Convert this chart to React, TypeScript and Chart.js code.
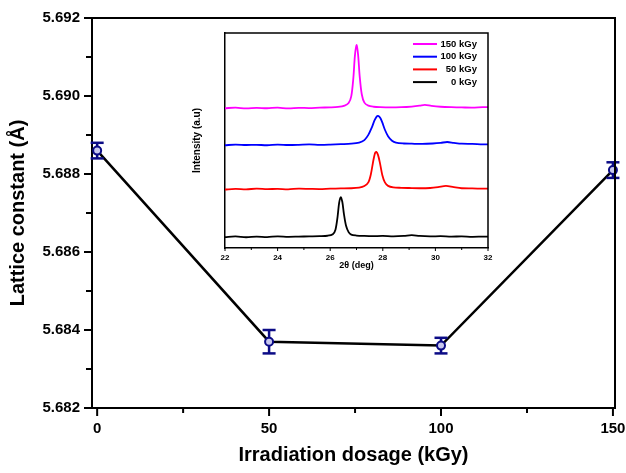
import React, { useEffect, useRef } from "react";
import { Chart, registerables } from "chart.js";
Chart.register(...registerables);

// ---------- main chart data ----------
const doses = [0, 50, 100, 150];
const latticeConstants = [5.6886, 5.6837, 5.6836, 5.6881];
const latticeErrors = [0.0002, 0.0003, 0.0002, 0.0002];
const xMajorTicks = [0, 50, 100, 150];
const xMinorTicks = [25, 75, 125];
const yMajorTicks = [5.682, 5.684, 5.686, 5.688, 5.69, 5.692];
const yMinorTicks = [5.683, 5.685, 5.687, 5.689, 5.691];

// ---------- inset (XRD) data ----------
const insetLabels = ["0 kGy", "50 kGy", "100 kGy", "150 kGy"];
const insetColors = ["#000000", "#ff0000", "#0000ff", "#ff00ff"];
const insetMajorTicks = [22, 24, 26, 28, 30, 32];
const insetMinorTicks = [23, 25, 27, 29, 31];

const theta0 = [22.0, 22.4, 22.8, 23.2, 23.6, 24.0, 24.4, 24.8, 25.2, 25.6, 25.9, 26.1, 26.2, 26.28, 26.34, 26.4, 26.46, 26.52, 26.6, 26.7, 26.8, 27.0, 27.3, 27.6, 28.0, 28.4, 28.8, 29.1, 29.4, 29.8, 30.2, 30.6, 31.0, 31.4, 31.8, 32.0];
const int0 = [5.1, 5.4, 5.0, 5.3, 5.1, 5.4, 5.2, 5.3, 5.4, 5.5, 5.7, 6.4, 8.5, 14.5, 21.0, 23.6, 21.5, 16.0, 10.5, 7.4, 6.2, 5.8, 5.6, 5.5, 5.6, 5.4, 5.6, 6.0, 5.6, 5.4, 5.5, 5.3, 5.4, 5.2, 5.3, 5.3];

const theta50 = [22.0, 22.4, 22.8, 23.2, 23.6, 24.0, 24.4, 24.8, 25.2, 25.6, 26.0, 26.4, 26.8, 27.1, 27.3, 27.45, 27.55, 27.63, 27.7, 27.75, 27.82, 27.9, 27.98, 28.08, 28.2, 28.4, 28.7, 29.0, 29.4, 29.8, 30.1, 30.4, 30.7, 31.0, 31.4, 31.8, 32.0];
const int50 = [27.2, 27.5, 27.3, 27.6, 27.4, 27.5, 27.3, 27.6, 27.5, 27.4, 27.6, 27.7, 27.8, 28.1, 28.8, 30.5, 34.5, 40.0, 44.0, 44.7, 43.2, 39.0, 34.0, 30.5, 28.9, 28.2, 28.0, 27.9, 27.8, 27.9, 28.3, 28.9, 28.3, 27.8, 27.7, 27.6, 27.6];

const theta100 = [22.0, 22.4, 22.8, 23.2, 23.6, 24.0, 24.4, 24.8, 25.2, 25.6, 26.0, 26.4, 26.8, 27.1, 27.3, 27.45, 27.58, 27.68, 27.76, 27.82, 27.9, 27.98, 28.08, 28.2, 28.35, 28.5, 28.8, 29.1, 29.5, 29.9, 30.2, 30.45, 30.7, 31.0, 31.4, 31.8, 32.0];
const int100 = [47.8, 48.1, 47.9, 48.0, 47.8, 48.1, 47.9, 48.0, 48.2, 48.0, 48.1, 48.3, 48.5, 49.0, 50.2, 52.6, 56.0, 59.2, 61.0, 61.4, 60.6, 58.4, 55.0, 52.0, 49.9, 49.0, 48.6, 48.5, 48.4, 48.6, 48.9, 49.3, 48.9, 48.5, 48.4, 48.2, 48.2];

const theta150 = [22.0, 22.4, 22.8, 23.2, 23.6, 24.0, 24.4, 24.8, 25.2, 25.6, 26.0, 26.3, 26.55, 26.7, 26.8, 26.88, 26.94, 27.0, 27.06, 27.12, 27.2, 27.3, 27.45, 27.65, 27.9, 28.3, 28.7, 29.1, 29.4, 29.6, 29.85, 30.2, 30.6, 31.0, 31.4, 31.8, 32.0];
const int150 = [65.0, 65.3, 64.9, 65.2, 65.0, 65.3, 64.9, 65.2, 65.1, 65.3, 65.4, 65.6, 66.2, 67.4, 70.5, 79.0, 89.5, 94.4, 90.0, 80.0, 71.5, 67.6, 66.2, 65.7, 65.5, 65.4, 65.5, 65.8, 66.2, 66.6, 66.1, 65.7, 65.5, 65.4, 65.3, 65.5, 65.5];

const insetThetas = [theta0, theta50, theta100, theta150];
const insetIntensities = [int0, int50, int100, int150];

const FONT = "Arial, 'Liberation Sans', sans-serif";
const NAVY = "#0b0b86";

function line(ctx: CanvasRenderingContext2D, x1: number, y1: number, x2: number, y2: number) {
  ctx.beginPath();
  ctx.moveTo(x1, y1);
  ctx.lineTo(x2, y2);
  ctx.stroke();
}

const mainDecor = {
  id: "mainDecor",
  afterDatasetDraw(chart: any, args: any) {
    if (args.index !== 0) return;
    const { ctx, scales } = chart;
    ctx.save();
    ctx.strokeStyle = NAVY;
    ctx.lineWidth = 2.5;
    doses.forEach((d, i) => {
      const px = scales.x.getPixelForValue(d);
      const top = scales.y.getPixelForValue(latticeConstants[i] + latticeErrors[i]);
      const bot = scales.y.getPixelForValue(latticeConstants[i] - latticeErrors[i]);
      line(ctx, px, top, px, bot);
      line(ctx, px - 6.5, top, px + 6.5, top);
      line(ctx, px - 6.5, bot, px + 6.5, bot);
    });
    ctx.restore();
  },
  afterDraw(chart: any) {
    const { ctx, chartArea: a, scales } = chart;
    ctx.save();
    ctx.strokeStyle = "#000";
    ctx.lineWidth = 2;
    ctx.beginPath();
    ctx.moveTo(a.left - 1, a.top);
    ctx.lineTo(a.right, a.top);
    ctx.lineTo(a.right, a.bottom + 1);
    ctx.stroke();
    xMajorTicks.forEach((v) => {
      const p = scales.x.getPixelForValue(v);
      line(ctx, p, a.bottom, p, a.bottom + 8);
    });
    xMinorTicks.forEach((v) => {
      const p = scales.x.getPixelForValue(v);
      line(ctx, p, a.bottom, p, a.bottom + 5);
    });
    yMajorTicks.forEach((v) => {
      const p = scales.y.getPixelForValue(v);
      line(ctx, a.left - 8, p, a.left, p);
    });
    yMinorTicks.forEach((v) => {
      const p = scales.y.getPixelForValue(v);
      line(ctx, a.left - 6, p, a.left, p);
    });
    ctx.restore();
  },
};

const insetDecor = {
  id: "insetDecor",
  afterDraw(chart: any) {
    const { ctx, chartArea: a, scales } = chart;
    ctx.save();
    ctx.strokeStyle = "#000";
    ctx.lineWidth = 1.5;
    ctx.beginPath();
    ctx.moveTo(a.left, a.top);
    ctx.lineTo(a.right, a.top);
    ctx.lineTo(a.right, a.bottom);
    ctx.stroke();
    ctx.lineWidth = 1;
    insetMajorTicks.forEach((v) => {
      const p = scales.x.getPixelForValue(v);
      line(ctx, p, a.bottom, p, a.bottom + 3);
    });
    insetMinorTicks.forEach((v) => {
      const p = scales.x.getPixelForValue(v);
      line(ctx, p, a.bottom, p, a.bottom + 2);
    });
    // legend
    ctx.font = `bold 9.5px ${FONT}`;
    ctx.textAlign = "right";
    ctx.textBaseline = "middle";
    ctx.fillStyle = "#000";
    for (let k = 0; k < insetLabels.length; k++) {
      const i = insetLabels.length - 1 - k;
      const y = a.top + 11 + k * 12.7;
      ctx.strokeStyle = insetColors[i];
      ctx.lineWidth = 2;
      line(ctx, a.right - 75, y, a.right - 51, y);
      ctx.fillText(insetLabels[i], a.right - 11, y);
    }
    ctx.restore();
  },
};

const noPadX = (h: number) => (s: any) => {
  s.height = h;
  s.paddingLeft = 0;
  s.paddingRight = 0;
};
const noPadY = (w: number) => (s: any) => {
  s.width = w;
  s.paddingTop = 0;
  s.paddingBottom = 0;
};

export default function App() {
  const mainRef = useRef<HTMLCanvasElement>(null);
  const insetRef = useRef<HTMLCanvasElement>(null);

  useEffect(() => {
    const tickFont = { family: FONT, size: 15, weight: "bold" as const };
    const titleFont = { family: FONT, size: 20, weight: "bold" as const };
    const main = new Chart(mainRef.current!, {
      type: "line",
      data: {
        datasets: [
          {
            data: doses.map((d, i) => ({ x: d, y: latticeConstants[i] })),
            borderColor: "#000",
            borderWidth: 2.5,
            pointRadius: 0,
            order: 2,
            clip: false as any,
          },
          {
            data: doses.map((d, i) => ({ x: d, y: latticeConstants[i] })),
            showLine: false,
            pointRadius: 4,
            pointBorderWidth: 2,
            pointBorderColor: NAVY,
            pointBackgroundColor: "#c8c8ee",
            order: 1,
            clip: false as any,
          },
        ],
      },
      options: {
        animation: false,
        responsive: false,
        events: [],
        layout: { padding: { top: 18, right: 11, left: 0, bottom: 0 } },
        plugins: { legend: { display: false }, tooltip: { enabled: false } },
        scales: {
          x: {
            type: "linear",
            min: -1.5,
            max: 150.6,
            afterBuildTicks: (s: any) => {
              s.ticks = xMajorTicks.map((v) => ({ value: v }));
            },
            afterFit: noPadX(65),
            grid: { display: false, drawTicks: false },
            border: { display: true, color: "#000", width: 2 },
            ticks: { color: "#000", font: tickFont, padding: 12, callback: (v: any) => String(v) },
            title: { display: true, text: "Irradiation dosage (kGy)", color: "#000", font: titleFont, padding: { top: 0, bottom: 6 } },
          },
          y: {
            type: "linear",
            min: 5.682,
            max: 5.692,
            afterBuildTicks: (s: any) => {
              s.ticks = yMajorTicks.map((v) => ({ value: v }));
            },
            afterFit: noPadY(92),
            grid: { display: false, drawTicks: false },
            border: { display: true, color: "#000", width: 2 },
            ticks: { color: "#000", font: tickFont, padding: 12, callback: (v: any) => Number(v).toFixed(3) },
            title: { display: true, text: "Lattice constant (Å)", color: "#000", font: titleFont, padding: { top: 6, bottom: 0 } },
          },
        },
      },
      plugins: [mainDecor],
    });

    const inset = new Chart(insetRef.current!, {
      type: "line",
      data: {
        datasets: insetLabels.map((lab, i) => ({
          label: lab,
          data: insetThetas[i].map((t, j) => ({ x: t, y: insetIntensities[i][j] })),
          borderColor: insetColors[i],
          borderWidth: 1.8,
          pointRadius: 0,
          tension: 0.3,
        })),
      },
      options: {
        animation: false,
        responsive: false,
        events: [],
        layout: { padding: { top: 8, right: 7, left: 0, bottom: 0 } },
        plugins: { legend: { display: false }, tooltip: { enabled: false } },
        scales: {
          x: {
            type: "linear",
            min: 22,
            max: 32,
            afterBuildTicks: (s: any) => {
              s.ticks = insetMajorTicks.map((v) => ({ value: v }));
            },
            afterFit: noPadX(27),
            grid: { display: false, drawTicks: false },
            border: { display: true, color: "#000", width: 1.5 },
            ticks: { color: "#000", font: { family: FONT, size: 8, weight: "bold" }, padding: 5, callback: (v: any) => String(v) },
            title: { display: true, text: "2θ (deg)", color: "#000", font: { family: FONT, size: 9, weight: "bold" }, padding: { top: 0, bottom: 4 } },
          },
          y: {
            type: "linear",
            min: 0,
            max: 100,
            afterFit: noPadY(40),
            grid: { display: false, drawTicks: false },
            border: { display: true, color: "#000", width: 1.5 },
            ticks: { display: false },
            title: { display: true, text: "Intensity (a.u)", color: "#000", font: { family: FONT, size: 10, weight: "bold" }, padding: { top: 6, bottom: 0 } },
          },
        },
      },
      plugins: [insetDecor],
    });

    return () => {
      main.destroy();
      inset.destroy();
    };
  }, []);

  return (
    <div style={{ position: "fixed", left: 0, top: 0, width: 626, height: 473, background: "#fff" }}>
      <canvas ref={mainRef} width={626} height={473} style={{ position: "absolute", left: 0, top: 0 }} />
      <canvas ref={insetRef} width={310} height={250} style={{ position: "absolute", left: 185, top: 25 }} />
    </div>
  );
}
